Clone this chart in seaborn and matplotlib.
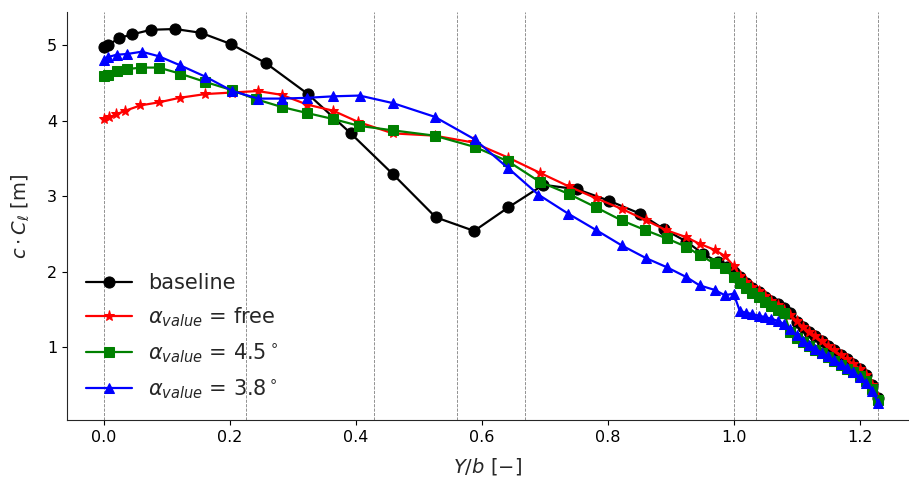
import matplotlib
matplotlib.use("Agg")
import matplotlib.pyplot as plt
import seaborn as sns
import pandas as pd

# ---------------- data ----------------
baseline_x = [0.000, 0.007, 0.024, 0.045, 0.075, 0.113, 0.154, 0.202, 0.257, 0.324,
              0.392, 0.459, 0.527, 0.588, 0.642, 0.698, 0.752, 0.802, 0.851, 0.890,
              0.925, 0.951, 0.975, 0.990, 1.000, 1.010, 1.020, 1.030, 1.040, 1.050,
              1.060, 1.070, 1.080, 1.090, 1.100, 1.110, 1.120, 1.130, 1.140, 1.150,
              1.160, 1.170, 1.180, 1.190, 1.200, 1.210, 1.220, 1.230]
baseline_y = [4.97, 5.00, 5.09, 5.14, 5.20, 5.21, 5.16, 5.01, 4.76, 4.35,
              3.83, 3.29, 2.72, 2.54, 2.85, 3.15, 3.09, 2.94, 2.77, 2.56,
              2.40, 2.24, 2.13, 2.06, 2.00, 1.93, 1.85, 1.79, 1.73, 1.67,
              1.62, 1.57, 1.52, 1.46, 1.34, 1.27, 1.21, 1.15, 1.08, 1.02,
              0.96, 0.90, 0.84, 0.78, 0.72, 0.63, 0.50, 0.33]

free_x = [0.000, 0.008, 0.019, 0.034, 0.058, 0.087, 0.120, 0.161, 0.203, 0.244,
          0.282, 0.323, 0.364, 0.404, 0.459, 0.525, 0.586, 0.642, 0.692, 0.738,
          0.782, 0.823, 0.861, 0.893, 0.924, 0.946, 0.970, 0.986, 1.000, 1.010,
          1.020, 1.030, 1.040, 1.050, 1.060, 1.070, 1.080, 1.090, 1.100, 1.110,
          1.120, 1.130, 1.140, 1.150, 1.160, 1.170, 1.180, 1.190, 1.200, 1.210,
          1.220, 1.230]
free_y = [4.02, 4.04, 4.08, 4.13, 4.20, 4.24, 4.30, 4.35, 4.37, 4.39,
          4.34, 4.21, 4.13, 3.98, 3.83, 3.80, 3.71, 3.51, 3.31, 3.13,
          2.97, 2.83, 2.68, 2.55, 2.46, 2.37, 2.29, 2.21, 2.08, 1.95,
          1.86, 1.80, 1.74, 1.68, 1.62, 1.56, 1.50, 1.43, 1.35, 1.27,
          1.21, 1.15, 1.08, 1.02, 0.96, 0.90, 0.84, 0.78, 0.72, 0.63,
          0.50, 0.33]

a45_x = [0.000, 0.007, 0.020, 0.037, 0.059, 0.087, 0.121, 0.161, 0.204, 0.242,
         0.282, 0.322, 0.364, 0.405, 0.459, 0.525, 0.589, 0.642, 0.692, 0.738,
         0.782, 0.822, 0.860, 0.894, 0.925, 0.946, 0.970, 0.986, 1.000, 1.010,
         1.020, 1.030, 1.040, 1.050, 1.060, 1.070, 1.080, 1.090, 1.100, 1.110,
         1.120, 1.130, 1.140, 1.150, 1.160, 1.170, 1.180, 1.190, 1.200, 1.210,
         1.220, 1.230]
a45_y = [4.59, 4.60, 4.65, 4.68, 4.70, 4.70, 4.62, 4.51, 4.40, 4.28,
         4.18, 4.10, 4.02, 3.93, 3.87, 3.80, 3.65, 3.46, 3.19, 3.03,
         2.85, 2.68, 2.55, 2.44, 2.33, 2.22, 2.11, 2.05, 1.93, 1.85,
         1.78, 1.72, 1.66, 1.60, 1.55, 1.50, 1.46, 1.20, 1.13, 1.07,
         1.02, 0.97, 0.92, 0.87, 0.82, 0.77, 0.72, 0.67, 0.62, 0.55,
         0.45, 0.30]

a38_x = [0.000, 0.007, 0.020, 0.037, 0.060, 0.087, 0.121, 0.161, 0.204, 0.245,
         0.282, 0.322, 0.364, 0.406, 0.459, 0.525, 0.589, 0.642, 0.690, 0.737,
         0.782, 0.822, 0.861, 0.894, 0.925, 0.946, 0.970, 0.986, 1.000, 1.010,
         1.020, 1.030, 1.040, 1.050, 1.060, 1.070, 1.080, 1.090, 1.100, 1.110,
         1.120, 1.130, 1.140, 1.150, 1.160, 1.170, 1.180, 1.190, 1.200, 1.210,
         1.220, 1.230]
a38_y = [4.80, 4.84, 4.87, 4.88, 4.91, 4.85, 4.73, 4.58, 4.39, 4.29,
         4.29, 4.30, 4.32, 4.33, 4.23, 4.05, 3.75, 3.37, 3.02, 2.77,
         2.55, 2.35, 2.18, 2.06, 1.93, 1.82, 1.76, 1.69, 1.71, 1.48,
         1.46, 1.44, 1.42, 1.40, 1.38, 1.35, 1.31, 1.24, 1.16, 1.09,
         1.03, 0.98, 0.93, 0.88, 0.83, 0.78, 0.73, 0.67, 0.61, 0.53,
         0.43, 0.26]

vlines_x = [0.0, 0.2254, 0.4286, 0.5603, 0.668, 1.0, 1.036, 1.230]

labels = ["baseline",
          r"$\alpha_{value}$ = free",
          r"$\alpha_{value}$ = 4.5$^\circ$",
          r"$\alpha_{value}$ = 3.8$^\circ$"]

# ---------------- plot ----------------
sns.set_style("ticks")
plt.rcParams['font.family'] = ['DejaVu Sans']

fig = plt.figure(figsize=(9.09, 4.79), dpi=100)
ax = fig.add_axes([67/909, 1 - 420/479, (908 - 67)/909, (420 - 12)/479])

for xv in vlines_x:
    ax.axvline(xv, color="gray", linestyle="--", linewidth=0.6, zorder=0)

series = [
    (baseline_x, baseline_y, "black", "o", 8),
    (free_x, free_y, "red", "*", 8),
    (a45_x, a45_y, "green", "s", 7),
    (a38_x, a38_y, "blue", "^", 7),
]
for (xs, ys, col, mk, ms), lab in zip(series, labels):
    df = pd.DataFrame({"x": xs, "y": ys})
    sns.lineplot(data=df, x="x", y="y", ax=ax, color=col, marker=mk,
                 markersize=ms, markeredgecolor=col, linewidth=1.6,
                 sort=False, label=lab)

ax.set_xlim(-0.0587, 1.277)
ax.set_ylim(0.04, 5.435)
ax.set_xticks([0.0, 0.2, 0.4, 0.6, 0.8, 1.0, 1.2])
ax.set_yticks([1, 2, 3, 4, 5])
ax.tick_params(labelsize=11.5, colors="black")
ax.set_xlabel(r"$Y/b\ [-]$", fontsize=14, labelpad=8)
ax.set_ylabel(r"$c \cdot C_\ell\ [\mathrm{m}]$", fontsize=14, labelpad=11)
sns.despine(ax=ax)
ax.legend(loc="lower left", frameon=False, fontsize=15, handlelength=2.2,
          labelspacing=0.6, bbox_to_anchor=(0.0, 0.0))

fig.savefig("out.png", dpi=100)
